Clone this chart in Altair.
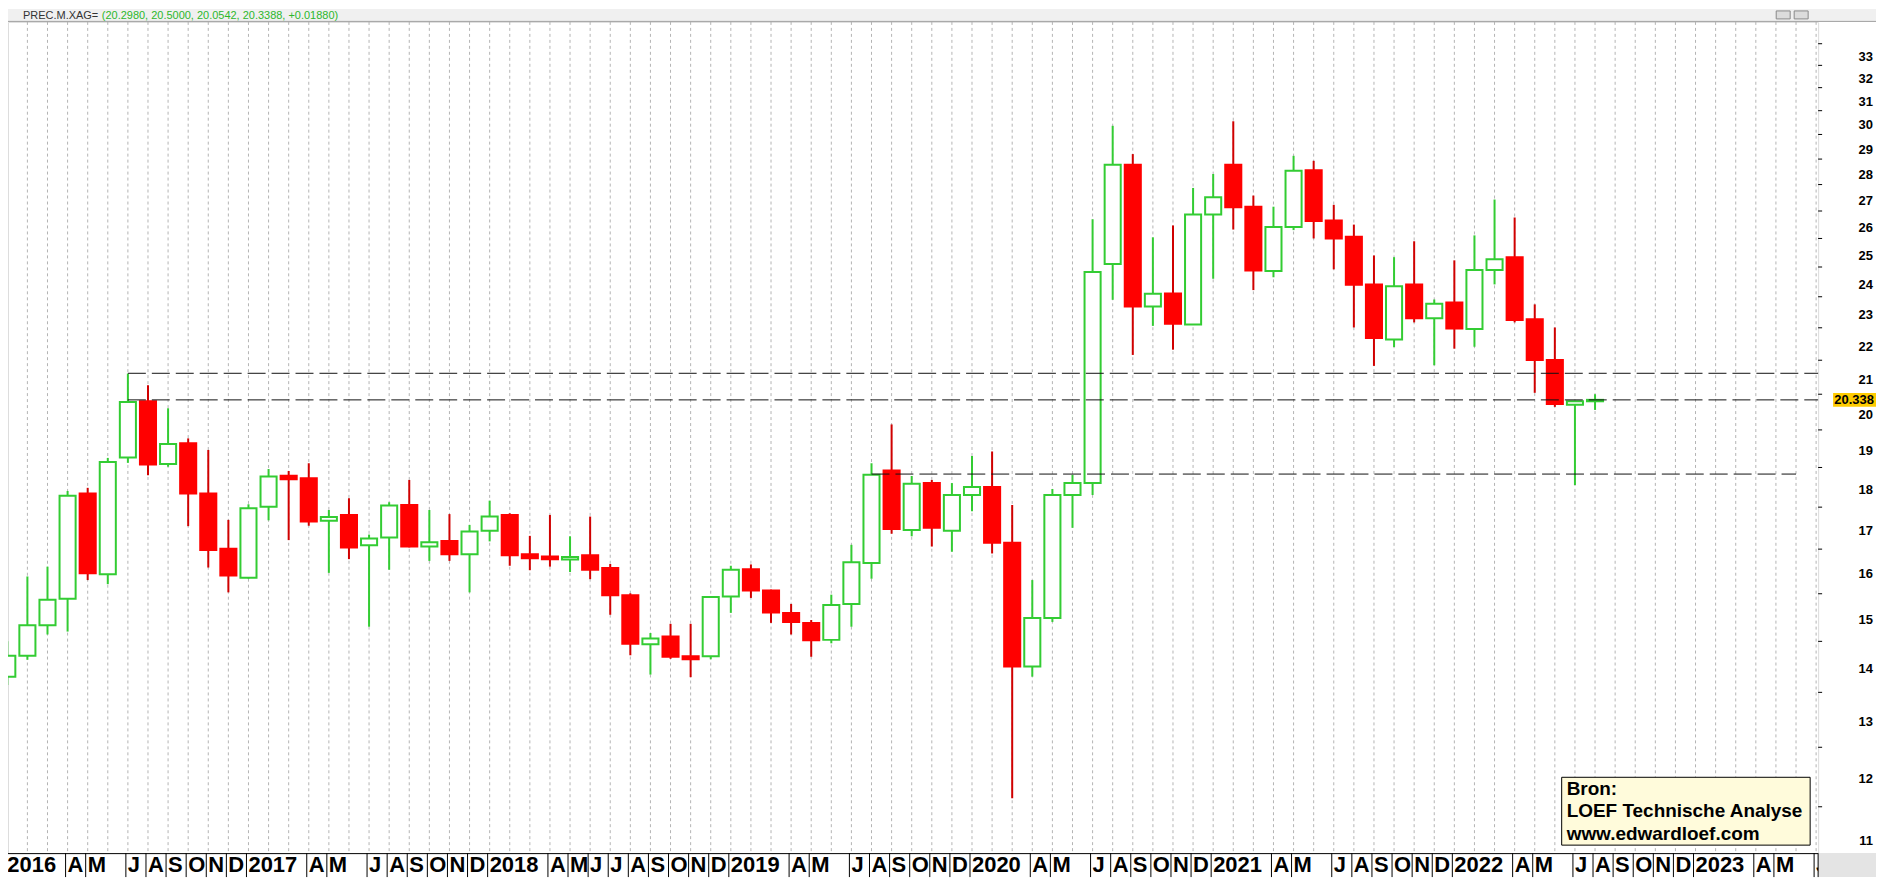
import altair as alt
import pandas as pd

# ---------------- data (monthly candles, Jan 2016 = index 0) ----------------
month_labels = (
    ["2016", "", "", "A", "M", "", "J", "A", "S", "O", "N", "D"]
    + ["2017", "", "", "A", "M", "", "J", "A", "S", "O", "N", "D"]
    + ["2018", "", "", "A", "M", "J", "J", "A", "S", "O", "N", "D"]
    + ["2019", "", "", "A", "M", "", "J", "A", "S", "O", "N", "D"]
    + ["2020", "", "", "A", "M", "", "J", "A", "S", "O", "N", "D"]
    + ["2021", "", "", "A", "M", "", "J", "A", "S", "O", "N", "D"]
    + ["2022", "", "", "A", "M", "", "J", "A", "S", "O", "N", "D"]
    + ["2023", "", "", "A", "M", "", "J"]
)

opens = [13.80, 14.21, 14.83, 15.39, 17.84, 15.93, 18.76, 20.30, 18.59, 19.14, 17.84, 16.51,
         15.85, 17.51, 18.29, 18.22, 17.17, 17.31, 16.59, 16.77, 17.55, 16.56, 16.69, 16.38,
         16.93, 17.31, 16.38, 16.33, 16.26, 16.36, 16.07, 15.47, 14.44, 14.60, 14.20, 14.20,
         15.44, 16.04, 15.57, 15.09, 14.88, 14.53, 15.28, 16.18, 18.42, 16.95, 18.10, 16.93,
         17.80, 18.00, 16.65, 14.00, 14.98, 17.80, 18.10, 24.60, 28.27, 23.18, 23.61, 22.60,
         26.37, 28.27, 26.66, 24.36, 25.91, 28.06, 26.15, 25.56, 23.91, 22.13, 23.91, 22.80,
         23.31, 22.46, 24.40, 24.84, 22.77, 21.51, 20.20, 20.298]
highs = [14.50, 15.88, 16.10, 17.90, 17.98, 18.75, 21.10, 20.76, 20.10, 19.27, 18.96, 17.19,
         17.57, 18.46, 18.41, 18.61, 17.43, 17.72, 16.84, 17.62, 18.18, 17.43, 17.33, 17.07,
         17.66, 17.35, 16.81, 17.31, 16.80, 17.27, 16.16, 15.51, 14.67, 14.86, 14.86, 15.44,
         16.12, 16.15, 15.59, 15.28, 14.94, 15.48, 16.60, 18.61, 19.65, 18.28, 18.18, 18.10,
         18.80, 18.92, 17.55, 15.80, 17.95, 18.31, 26.20, 29.86, 28.70, 25.54, 25.97, 27.37,
         27.91, 30.05, 27.08, 26.66, 28.63, 28.43, 26.73, 26.00, 24.90, 24.84, 25.40, 23.41,
         24.73, 25.61, 26.93, 26.26, 23.25, 22.51, 20.30, 20.50]
lows = [13.64, 14.13, 14.64, 14.70, 15.80, 15.71, 18.62, 18.30, 18.52, 17.04, 16.08, 15.53,
        15.83, 17.18, 16.71, 17.05, 15.96, 16.27, 14.80, 16.03, 16.54, 16.23, 16.23, 15.53,
        16.68, 16.12, 16.02, 16.10, 15.98, 15.82, 15.05, 14.22, 13.84, 14.15, 13.79, 14.14,
        15.09, 15.41, 14.88, 14.64, 14.19, 14.46, 14.80, 15.83, 16.86, 16.80, 16.56, 16.44,
        17.40, 16.40, 11.64, 13.80, 14.90, 17.00, 17.80, 23.40, 21.66, 22.56, 21.82, 22.59,
        24.10, 25.82, 23.72, 24.15, 25.80, 25.50, 24.42, 22.51, 21.33, 21.90, 22.67, 21.35,
        21.85, 21.91, 23.91, 22.67, 20.54, 20.14, 18.05, 20.054]
closes = [14.21, 14.83, 15.37, 17.78, 15.95, 18.64, 20.28, 18.58, 19.12, 17.84, 16.48, 15.90,
          17.47, 18.27, 18.20, 17.15, 17.26, 16.54, 16.75, 17.54, 16.56, 16.66, 16.38, 16.91,
          17.27, 16.36, 16.29, 16.27, 16.32, 16.03, 15.47, 14.45, 14.56, 14.19, 14.14, 15.43,
          16.03, 15.57, 15.10, 14.90, 14.52, 15.26, 16.20, 18.31, 16.97, 18.08, 17.00, 17.80,
          18.00, 16.65, 14.00, 14.98, 17.80, 18.10, 24.33, 28.27, 23.18, 23.60, 22.63, 26.37,
          27.02, 26.64, 24.38, 25.91, 28.04, 26.13, 25.50, 23.90, 22.18, 23.85, 22.80, 23.27,
          22.48, 24.40, 24.77, 22.75, 21.51, 20.22, 20.30, 20.3388]

level_values = [21.11, 20.338, 18.33]
level_start = [6, 6, 43]
level_end = [90.1, 90.1, 89.0]

last_price = [20.338]
last_price_text = ["20.338"]
header_symbol = ["PREC.M.XAG="]
header_values = ["(20.2980, 20.5000, 20.0542, 20.3388, +0.01880)"]
source_lines = ["Bron:", "LOEF Technische Analyse", "www.edwardloef.com"]
y_tick_values = list(range(11, 35))
y_label_values = list(range(11, 34))
y_label_texts = [str(v) for v in y_label_values]
y_minor_values = [v + 0.5 for v in range(10, 34)]

# ---------------- frames ----------------
n = len(opens)
candles = pd.DataFrame({
    "idx": list(range(n)),
    "open": opens, "high": highs, "low": lows, "close": closes,
})
candles["dir"] = ["up" if c >= o else "down" for o, c in zip(opens, closes)]
candles["xl"] = candles["idx"] - 0.40
candles["xr"] = candles["idx"] + 0.40

months = pd.DataFrame({"idx": list(range(len(month_labels))), "lab": month_labels})
months["sep"] = months["idx"] - 0.1
labelled = months[months["lab"] != ""]

levels = pd.DataFrame({"v": level_values, "x0": level_start, "x1": level_end})
minor = pd.DataFrame({"v": y_minor_values})
ylabels = pd.DataFrame({"v": y_label_values, "t": y_label_texts})
lastp = pd.DataFrame({"v": last_price, "t": last_price_text})
one = pd.DataFrame({"a": [0]})
hdr = pd.DataFrame({"s": header_symbol, "v": header_values})

W, H = 1814, 833
PAD_R, PAD_T, PAD_B = 58, 13, 24
FONT = "Liberation Sans"

X = alt.Scale(domain=[0.035, 90.1], nice=False, zero=False)
Y = alt.Scale(type="log", domain=[10.777, 34.54], nice=False)

GREEN = "#33cc33"
RED = "#ff0000"
RED_WICK = "#d00000"

grid = alt.Chart(months).mark_rule(color="#b4b4b4", strokeDash=[3, 3], strokeWidth=1).encode(
    x=alt.X("idx:Q", scale=X, axis=None), y=alt.value(0), y2=alt.value(H))

wicks = alt.Chart(candles).mark_rule(strokeWidth=2).encode(
    x=alt.X("idx:Q", scale=X, axis=None),
    y=alt.Y("low:Q", scale=Y, axis=alt.Axis(
        orient="right", values=y_tick_values, labels=False,
        tickSize=8, tickColor="#000", tickWidth=1,
        domainColor="#000", domainWidth=1, grid=False, title=None)),
    y2="high:Q",
    color=alt.Color("dir:N", scale=alt.Scale(domain=["up", "down"], range=[GREEN, RED_WICK]), legend=None),
)

bodies = alt.Chart(candles).mark_rect(strokeWidth=2).encode(
    x=alt.X("xl:Q", scale=X, axis=None), x2="xr:Q",
    y=alt.Y("open:Q", scale=Y, axis=None), y2="close:Q",
    fill=alt.Fill("dir:N", scale=alt.Scale(domain=["up", "down"], range=["#ffffff", RED]), legend=None),
    stroke=alt.Stroke("dir:N", scale=alt.Scale(domain=["up", "down"], range=[GREEN, RED]), legend=None),
)

hlines = alt.Chart(levels).mark_rule(color="#111111", strokeDash=[18, 6], strokeWidth=1).encode(
    x=alt.X("x0:Q", scale=X, axis=None), x2="x1:Q", y=alt.Y("v:Q", scale=Y, axis=None))

minor_ticks = alt.Chart(minor).mark_rule(color="#000").encode(
    y=alt.Y("v:Q", scale=Y, axis=None), x=alt.value(W), x2=alt.value(W + 4))

ytext = alt.Chart(ylabels).mark_text(
    align="right", baseline="middle", font=FONT, fontWeight="bold", fontSize=13, color="#000", dy=3
).encode(y=alt.Y("v:Q", scale=Y, axis=None), x=alt.value(W + 55), text="t:N")

# bottom month band
band_bg = alt.Chart(one).mark_rect(color="#ffffff").encode(
    x=alt.value(0), x2=alt.value(W), y=alt.value(H), y2=alt.value(H + PAD_B))
band_top = alt.Chart(one).mark_rule(color="#000", strokeWidth=1).encode(
    x=alt.value(0), x2=alt.value(W), y=alt.value(H + 0.5))
band_sep = alt.Chart(labelled).mark_rule(color="#000", strokeWidth=1).encode(
    x=alt.X("sep:Q", scale=X, axis=None), y=alt.value(H), y2=alt.value(H + PAD_B))
band_txt = alt.Chart(labelled).mark_text(
    align="left", baseline="alphabetic", font=FONT, fontWeight="bold", fontSize=22, dx=2, color="#000"
).encode(x=alt.X("sep:Q", scale=X, axis=None), y=alt.value(H + 19), text="lab:N")
band_corner = alt.Chart(one).mark_rect(color="#e4e4e4").encode(
    x=alt.value(W), x2=alt.value(W + PAD_R), y=alt.value(H), y2=alt.value(H + PAD_B))
band_axis = alt.Chart(one).mark_rule(color="#000").encode(
    x=alt.value(W), y=alt.value(H), y2=alt.value(H + PAD_B))

# source box
src_box = alt.Chart(one).mark_rect(fill="#fffbdb", stroke="#000", strokeWidth=1).encode(
    x=alt.value(1557), x2=alt.value(1806), y=alt.value(757), y2=alt.value(825))
src_layers = []
for line_text, line_y in zip(source_lines, [769, 791, 814]):
    src_layers.append(
        alt.Chart(pd.DataFrame({"t": [line_text]})).mark_text(
            align="left", baseline="middle", font=FONT, fontWeight="bold", fontSize=19, color="#000"
        ).encode(x=alt.value(1562), y=alt.value(line_y), text="t:N")
    )

# header bar
hdr_bg = alt.Chart(one).mark_rect(color="#f0f0f0").encode(
    x=alt.value(0), x2=alt.value(W + PAD_R), y=alt.value(-PAD_T), y2=alt.value(0))
hdr_line = alt.Chart(one).mark_rule(color="#a0a0a0").encode(
    x=alt.value(0), x2=alt.value(W + PAD_R), y=alt.value(-0.5))
hdr_sym = alt.Chart(hdr).mark_text(
    align="left", baseline="middle", font=FONT, fontSize=11, color="#333333"
).encode(x=alt.value(15), y=alt.value(-6), text="s:N")
hdr_val = alt.Chart(hdr).mark_text(
    align="left", baseline="middle", font=FONT, fontSize=11, color="#2cb72c"
).encode(x=alt.value(94), y=alt.value(-6), text="v:N")
hdr_icon1 = alt.Chart(one).mark_rect(fill="#dcdcdc", stroke="#8a8a8a", strokeWidth=1).encode(
    x=alt.value(1772), x2=alt.value(1786), y=alt.value(-11), y2=alt.value(-3))
hdr_icon2 = alt.Chart(one).mark_rect(fill="#dcdcdc", stroke="#8a8a8a", strokeWidth=1).encode(
    x=alt.value(1790), x2=alt.value(1804), y=alt.value(-11), y2=alt.value(-3))

# last price marker on the right axis
last_box = alt.Chart(lastp).mark_rect(color="#ffcc00", yOffset=-7, y2Offset=7).encode(
    x=alt.value(W + 15), x2=alt.value(W + PAD_R), y=alt.Y("v:Q", scale=Y, axis=None), y2="v:Q")
last_txt = alt.Chart(lastp).mark_text(
    align="right", baseline="middle", font=FONT, fontWeight="bold", fontSize=13, color="#000"
).encode(x=alt.value(W + 56), y=alt.Y("v:Q", scale=Y, axis=None), text="t:N")

chart = alt.layer(
    grid, wicks, bodies, hlines, minor_ticks, ytext,
    band_bg, band_top, band_sep, band_txt, band_corner, band_axis,
    src_box, *src_layers,
    hdr_bg, hdr_line, hdr_sym, hdr_val, hdr_icon1, hdr_icon2,
    last_box, last_txt,
).properties(
    width=W, height=H,
    autosize=alt.AutoSizeParams(type="none"),
    padding={"left": 0, "top": PAD_T, "right": PAD_R, "bottom": PAD_B},
).configure_view(stroke=None).configure(background="#ffffff")

chart.save("out.html", embed_options={"renderer": "svg", "actions": False})
